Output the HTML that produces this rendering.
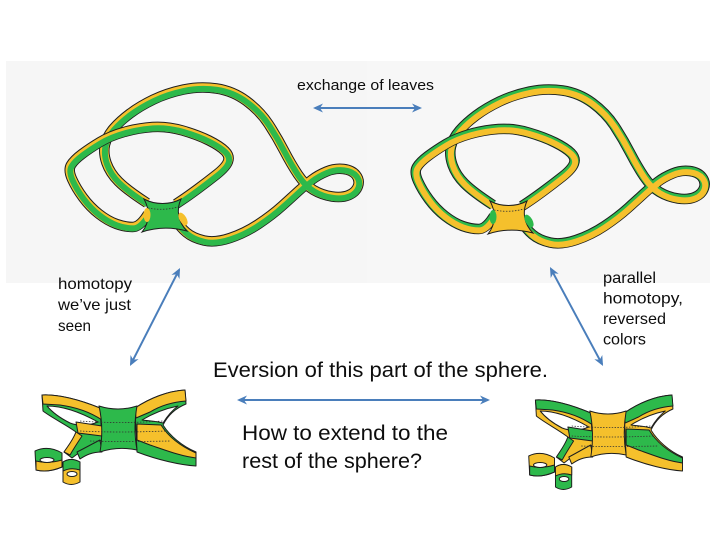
<!DOCTYPE html>
<html><head><meta charset="utf-8">
<style>
html,body{margin:0;padding:0;background:#fff;}
svg{display:block;}
text{font-family:"Liberation Sans",Arial,sans-serif;fill:#0d0d0d;}
.o{fill:none;stroke:#1d1d1d;stroke-width:10.5;stroke-linejoin:round;}
.L .e{fill:none;stroke:#f5c02c;stroke-width:8.5;stroke-linejoin:round;}
.L .m{fill:none;stroke:#2db94b;stroke-width:6;stroke-linejoin:round;}
.R .e{fill:none;stroke:#2db94b;stroke-width:8.5;stroke-linejoin:round;}
.R .m{fill:none;stroke:#f5c02c;stroke-width:6;stroke-linejoin:round;}
.L .mf{fill:#2db94b;} .L .ef{fill:#f5c02c;}
.R .mf{fill:#f5c02c;} .R .ef{fill:#2db94b;}
.bf path,.bf ellipse{stroke:#1d1d1d;stroke-width:1;stroke-linejoin:round;}
.bf path.dot{stroke:#333;stroke-width:0.8;stroke-dasharray:1.5 1.5;fill:none;}
.BL .G{fill:#2db94b;} .BL .Y{fill:#f5c02c;}
.BR .G{fill:#f5c02c;} .BR .Y{fill:#2db94b;}
.W{fill:#fff;}
.dot{fill:none;stroke:#333;stroke-width:0.8;stroke-dasharray:1.5 1.5;}
.arr{stroke:#4a7ebb;stroke-width:2;fill:none;}
</style></head><body>
<svg width="720" height="540" viewBox="0 0 720 540" xmlns="http://www.w3.org/2000/svg">
<defs>
<marker id="ah" viewBox="0 0 10 10" refX="8" refY="5" markerWidth="5" markerHeight="5" orient="auto-start-reverse" markerUnits="strokeWidth">
<path d="M0,0.5 L10,5 L0,9.5 L3,5 Z" fill="#4a7ebb"/>
</marker>
</defs>
<rect x="0" y="0" width="720" height="540" fill="#fff"/>
<rect x="6" y="61" width="361" height="222" fill="#f6f6f6"/>
<rect x="367" y="61" width="343" height="222" fill="#f7f7f7"/>

<!-- Left knot -->
<g class="L">
<path class="o" d="M147,203 Q127,190 118.5,181.5 Q110,173 106.5,163 Q103,153 105,144.5 Q107,136 113.5,128.5 Q120,121 130,113.5 Q140,106 153.5,99.5 Q167,93 183.5,89.5 Q200,86 216.5,88.5 Q233,91 246.5,101 Q260,111 268.5,124 Q277,137 284,150.5 Q291,164 298,174.5 Q305,185 313.5,190 Q322,195 332,196.5 Q342,198 349,195 Q356,192 358,186 Q360,180 356,175 Q352,170 343.5,169 Q335,168 326.5,171.5 Q318,175 311.5,180 Q305,185 298.5,191 Q292,197 282,206 Q272,215 258.5,224 Q245,233 230,238 Q215,243 204,240.5 Q193,238 186.5,232.5 Q180,227 176,220 L172,213"/>
<path class="e" d="M147,203 Q127,190 118.5,181.5 Q110,173 106.5,163 Q103,153 105,144.5 Q107,136 113.5,128.5 Q120,121 130,113.5 Q140,106 153.5,99.5 Q167,93 183.5,89.5 Q200,86 216.5,88.5 Q233,91 246.5,101 Q260,111 268.5,124 Q277,137 284,150.5 Q291,164 298,174.5 Q305,185 313.5,190 Q322,195 332,196.5 Q342,198 349,195 Q356,192 358,186 Q360,180 356,175 Q352,170 343.5,169 Q335,168 326.5,171.5 Q318,175 311.5,180 Q305,185 298.5,191 Q292,197 282,206 Q272,215 258.5,224 Q245,233 230,238 Q215,243 204,240.5 Q193,238 186.5,232.5 Q180,227 176,220 L172,213"/>
<path class="m" transform="translate(0.6,1.4)" d="M147,203 Q127,190 118.5,181.5 Q110,173 106.5,163 Q103,153 105,144.5 Q107,136 113.5,128.5 Q120,121 130,113.5 Q140,106 153.5,99.5 Q167,93 183.5,89.5 Q200,86 216.5,88.5 Q233,91 246.5,101 Q260,111 268.5,124 Q277,137 284,150.5 Q291,164 298,174.5 Q305,185 313.5,190 Q322,195 332,196.5 Q342,198 349,195 Q356,192 358,186 Q360,180 356,175 Q352,170 343.5,169 Q335,168 326.5,171.5 Q318,175 311.5,180 Q305,185 298.5,191 Q292,197 282,206 Q272,215 258.5,224 Q245,233 230,238 Q215,243 204,240.5 Q193,238 186.5,232.5 Q180,227 176,220 L172,213"/>
<path class="o" d="M148,214 Q140,227 132.5,227 Q125,227 116.5,224 Q108,221 99,214 Q90,207 83,197.5 Q76,188 72,179 Q68,170 71,165 Q74,160 82,154 Q90,148 100,142 Q110,136 124,132 Q138,128 152.5,127 Q167,126 182.5,130.5 Q198,135 209,140.5 Q220,146 225,151 Q230,156 228,161.5 Q226,167 216.5,174.5 Q207,182 197.5,189 Q188,196 182,200 L176,204"/>
<path class="e" d="M148,214 Q140,227 132.5,227 Q125,227 116.5,224 Q108,221 99,214 Q90,207 83,197.5 Q76,188 72,179 Q68,170 71,165 Q74,160 82,154 Q90,148 100,142 Q110,136 124,132 Q138,128 152.5,127 Q167,126 182.5,130.5 Q198,135 209,140.5 Q220,146 225,151 Q230,156 228,161.5 Q226,167 216.5,174.5 Q207,182 197.5,189 Q188,196 182,200 L176,204"/>
<path class="m" transform="translate(0.6,1.4)" d="M148,214 Q140,227 132.5,227 Q125,227 116.5,224 Q108,221 99,214 Q90,207 83,197.5 Q76,188 72,179 Q68,170 71,165 Q74,160 82,154 Q90,148 100,142 Q110,136 124,132 Q138,128 152.5,127 Q167,126 182.5,130.5 Q198,135 209,140.5 Q220,146 225,151 Q230,156 228,161.5 Q226,167 216.5,174.5 Q207,182 197.5,189 Q188,196 182,200 L176,204"/>
<path class="mf" stroke="#1d1d1d" stroke-width="1" d="M144,199 C155,205 170,205 181,199 C176,210 178,222 187,231 C172,227 157,227 142,232 C150,222 150,210 144,199 Z"/>
<ellipse class="ef" cx="147" cy="215" rx="3.5" ry="7"/>
<ellipse class="ef" cx="183" cy="219" rx="3.5" ry="7" transform="rotate(-30 183 219)"/>
<path class="dot" d="M148,208 Q163,211 178,207"/>
</g>

<!-- Right knot -->
<g class="R" transform="translate(346,2)">
<path class="o" d="M147,203 Q127,190 118.5,181.5 Q110,173 106.5,163 Q103,153 105,144.5 Q107,136 113.5,128.5 Q120,121 130,113.5 Q140,106 153.5,99.5 Q167,93 183.5,89.5 Q200,86 216.5,88.5 Q233,91 246.5,101 Q260,111 268.5,124 Q277,137 284,150.5 Q291,164 298,174.5 Q305,185 313.5,190 Q322,195 332,196.5 Q342,198 349,195 Q356,192 358,186 Q360,180 356,175 Q352,170 343.5,169 Q335,168 326.5,171.5 Q318,175 311.5,180 Q305,185 298.5,191 Q292,197 282,206 Q272,215 258.5,224 Q245,233 230,238 Q215,243 204,240.5 Q193,238 186.5,232.5 Q180,227 176,220 L172,213"/>
<path class="e" d="M147,203 Q127,190 118.5,181.5 Q110,173 106.5,163 Q103,153 105,144.5 Q107,136 113.5,128.5 Q120,121 130,113.5 Q140,106 153.5,99.5 Q167,93 183.5,89.5 Q200,86 216.5,88.5 Q233,91 246.5,101 Q260,111 268.5,124 Q277,137 284,150.5 Q291,164 298,174.5 Q305,185 313.5,190 Q322,195 332,196.5 Q342,198 349,195 Q356,192 358,186 Q360,180 356,175 Q352,170 343.5,169 Q335,168 326.5,171.5 Q318,175 311.5,180 Q305,185 298.5,191 Q292,197 282,206 Q272,215 258.5,224 Q245,233 230,238 Q215,243 204,240.5 Q193,238 186.5,232.5 Q180,227 176,220 L172,213"/>
<path class="m" transform="translate(0.6,1.4)" d="M147,203 Q127,190 118.5,181.5 Q110,173 106.5,163 Q103,153 105,144.5 Q107,136 113.5,128.5 Q120,121 130,113.5 Q140,106 153.5,99.5 Q167,93 183.5,89.5 Q200,86 216.5,88.5 Q233,91 246.5,101 Q260,111 268.5,124 Q277,137 284,150.5 Q291,164 298,174.5 Q305,185 313.5,190 Q322,195 332,196.5 Q342,198 349,195 Q356,192 358,186 Q360,180 356,175 Q352,170 343.5,169 Q335,168 326.5,171.5 Q318,175 311.5,180 Q305,185 298.5,191 Q292,197 282,206 Q272,215 258.5,224 Q245,233 230,238 Q215,243 204,240.5 Q193,238 186.5,232.5 Q180,227 176,220 L172,213"/>
<path class="o" d="M148,214 Q140,227 132.5,227 Q125,227 116.5,224 Q108,221 99,214 Q90,207 83,197.5 Q76,188 72,179 Q68,170 71,165 Q74,160 82,154 Q90,148 100,142 Q110,136 124,132 Q138,128 152.5,127 Q167,126 182.5,130.5 Q198,135 209,140.5 Q220,146 225,151 Q230,156 228,161.5 Q226,167 216.5,174.5 Q207,182 197.5,189 Q188,196 182,200 L176,204"/>
<path class="e" d="M148,214 Q140,227 132.5,227 Q125,227 116.5,224 Q108,221 99,214 Q90,207 83,197.5 Q76,188 72,179 Q68,170 71,165 Q74,160 82,154 Q90,148 100,142 Q110,136 124,132 Q138,128 152.5,127 Q167,126 182.5,130.5 Q198,135 209,140.5 Q220,146 225,151 Q230,156 228,161.5 Q226,167 216.5,174.5 Q207,182 197.5,189 Q188,196 182,200 L176,204"/>
<path class="m" transform="translate(0.6,1.4)" d="M148,214 Q140,227 132.5,227 Q125,227 116.5,224 Q108,221 99,214 Q90,207 83,197.5 Q76,188 72,179 Q68,170 71,165 Q74,160 82,154 Q90,148 100,142 Q110,136 124,132 Q138,128 152.5,127 Q167,126 182.5,130.5 Q198,135 209,140.5 Q220,146 225,151 Q230,156 228,161.5 Q226,167 216.5,174.5 Q207,182 197.5,189 Q188,196 182,200 L176,204"/>
<path class="mf" stroke="#1d1d1d" stroke-width="1" d="M144,199 C155,205 170,205 181,199 C176,210 178,222 187,231 C172,227 157,227 142,232 C150,222 150,210 144,199 Z"/>
<ellipse class="ef" cx="147" cy="215" rx="3.5" ry="7"/>
<ellipse class="ef" cx="183" cy="219" rx="3.5" ry="7" transform="rotate(-30 183 219)"/>
<path class="dot" d="M148,208 Q163,211 178,207"/>
</g>

<!-- Bottom-left figure -->
<g class="bf BL">
<!-- small loop 1 -->
<path class="G" d="M35,451 Q48,445 62,453 L62,467 Q48,473 36,470 Z"/>
<path class="Y" d="M36,461 Q48,464 62,460 L62,467 Q48,473 36,470 Z"/>
<ellipse class="W" cx="47" cy="460" rx="7" ry="2.5"/>
<!-- small loop 2 -->
<path class="Y" d="M63,462 L63,482 Q71,487 80,482 L80,462 Q71,457 63,462 Z"/>
<path class="G" d="M63,462 Q71,457 80,462 L80,470 Q71,467 63,471 Z"/>
<ellipse class="W" cx="72" cy="474" rx="5" ry="2.5"/>
<!-- left lobe -->
<path class="G" d="M42,395 C60,394 80,400 100,408 L102,440 C95,445 88,448 80,452 L72,458 L64,452 C70,444 74,438 76,432 C65,424 52,418 43,411 Z"/>
<path class="Y" d="M42,395 C60,394 80,400 100,408 L102,420 C90,412 75,407 60,405 L43,404 Z"/>
<path class="W" d="M47,406 C62,406 80,412 98,422 C88,426 78,426 70,423 C60,418 52,412 47,406 Z"/>
<path class="Y" d="M76,422 L102,426 L102,436 L78,433 Z"/>
<path class="Y" d="M76,432 L82,436 C78,442 74,448 70,455 L64,452 C68,446 73,440 76,432 Z"/>
<!-- center -->
<path class="G" d="M100,440 L102,452 C92,452 86,455 80,459 L77,452 C85,448 92,444 100,440 Z"/>
<!-- right lobe -->
<path class="G" d="M135,408 C150,398 168,391 185,390 L186,404 C176,408 168,415 163,425 C170,436 182,446 196,452 L196,466 C180,465 158,460 137,452 Z"/>
<path class="Y" d="M135,408 C150,398 168,391 185,390 L186,401 C172,402 160,406 150,412 L136,418 Z"/>
<path class="W" d="M142,420 C152,414 163,409 178,406 C170,412 166,418 163,423 C156,421 149,421 142,420 Z"/>
<path class="Y" d="M137,424 L161,425 C168,436 180,446 196,453 L196,458 C180,456 165,450 150,445 L137,440 Z"/>
<path class="G" d="M99,406 Q118,412 137,406 Q133,428 137,450 Q118,446 100,452 Q104,428 99,406 Z"/>
<path class="dot" d="M80,421 Q118,424 163,421 M80,431 Q118,433 165,431 M90,441 Q118,442 170,441"/>
</g>

<!-- Bottom-right figure -->
<g class="bf BR" transform="translate(495.3,5) scale(0.955,1)">
<path class="G" d="M35,451 Q48,445 62,453 L62,467 Q48,473 36,470 Z"/>
<path class="Y" d="M36,461 Q48,464 62,460 L62,467 Q48,473 36,470 Z"/>
<ellipse class="W" cx="47" cy="460" rx="7" ry="2.5"/>
<path class="Y" d="M63,462 L63,482 Q71,487 80,482 L80,462 Q71,457 63,462 Z"/>
<path class="G" d="M63,462 Q71,457 80,462 L80,470 Q71,467 63,471 Z"/>
<ellipse class="W" cx="72" cy="474" rx="5" ry="2.5"/>
<path class="G" d="M42,395 C60,394 80,400 100,408 L102,440 C95,445 88,448 80,452 L72,458 L64,452 C70,444 74,438 76,432 C65,424 52,418 43,411 Z"/>
<path class="Y" d="M42,395 C60,394 80,400 100,408 L102,420 C90,412 75,407 60,405 L43,404 Z"/>
<path class="W" d="M47,406 C62,406 80,412 98,422 C88,426 78,426 70,423 C60,418 52,412 47,406 Z"/>
<path class="Y" d="M76,422 L102,426 L102,436 L78,433 Z"/>
<path class="Y" d="M76,432 L82,436 C78,442 74,448 70,455 L64,452 C68,446 73,440 76,432 Z"/>
<path class="G" d="M100,440 L102,452 C92,452 86,455 80,459 L77,452 C85,448 92,444 100,440 Z"/>
<path class="G" d="M135,408 C150,398 168,391 185,390 L186,404 C176,408 168,415 163,425 C170,436 182,446 196,452 L196,466 C180,465 158,460 137,452 Z"/>
<path class="Y" d="M135,408 C150,398 168,391 185,390 L186,401 C172,402 160,406 150,412 L136,418 Z"/>
<path class="W" d="M142,420 C152,414 163,409 178,406 C170,412 166,418 163,423 C156,421 149,421 142,420 Z"/>
<path class="Y" d="M137,424 L161,425 C168,436 180,446 196,453 L196,458 C180,456 165,450 150,445 L137,440 Z"/>
<path class="G" d="M99,406 Q118,412 137,406 Q133,428 137,450 Q118,446 100,452 Q104,428 99,406 Z"/>
<path class="dot" d="M80,421 Q118,424 163,421 M80,431 Q118,433 165,431 M90,441 Q118,442 170,441"/>
</g>

<!-- Arrows -->
<line class="arr" x1="315" y1="108" x2="420" y2="108" marker-start="url(#ah)" marker-end="url(#ah)"/>
<line class="arr" x1="179.1" y1="269.8" x2="130.9" y2="364.2" marker-start="url(#ah)" marker-end="url(#ah)"/>
<line class="arr" x1="550.9" y1="268.8" x2="602.1" y2="364.2" marker-start="url(#ah)" marker-end="url(#ah)"/>
<line class="arr" x1="239" y1="400" x2="488" y2="400" marker-start="url(#ah)" marker-end="url(#ah)"/>

<!-- Text -->
<text x="297" y="90" font-size="14.5" textLength="137" lengthAdjust="spacingAndGlyphs">exchange of leaves</text>
<text x="58" y="289" font-size="16" textLength="74" lengthAdjust="spacingAndGlyphs">homotopy</text>
<text x="58" y="310" font-size="16" textLength="73" lengthAdjust="spacingAndGlyphs">we&#8217;ve just</text>
<text x="58" y="331" font-size="16" textLength="33" lengthAdjust="spacingAndGlyphs">seen</text>
<text x="603" y="283" font-size="16" textLength="53" lengthAdjust="spacingAndGlyphs">parallel</text>
<text x="603" y="303.5" font-size="16" textLength="80" lengthAdjust="spacingAndGlyphs">homotopy,</text>
<text x="603" y="324" font-size="16" textLength="63" lengthAdjust="spacingAndGlyphs">reversed</text>
<text x="603" y="344.5" font-size="16" textLength="43" lengthAdjust="spacingAndGlyphs">colors</text>
<text x="213" y="377" font-size="21" textLength="335" lengthAdjust="spacingAndGlyphs">Eversion of this part of the sphere.</text>
<text x="242" y="440" font-size="21" textLength="206" lengthAdjust="spacingAndGlyphs">How to extend to the</text>
<text x="242" y="468" font-size="21" textLength="180" lengthAdjust="spacingAndGlyphs">rest of the sphere?</text>
</svg>
</body></html>
